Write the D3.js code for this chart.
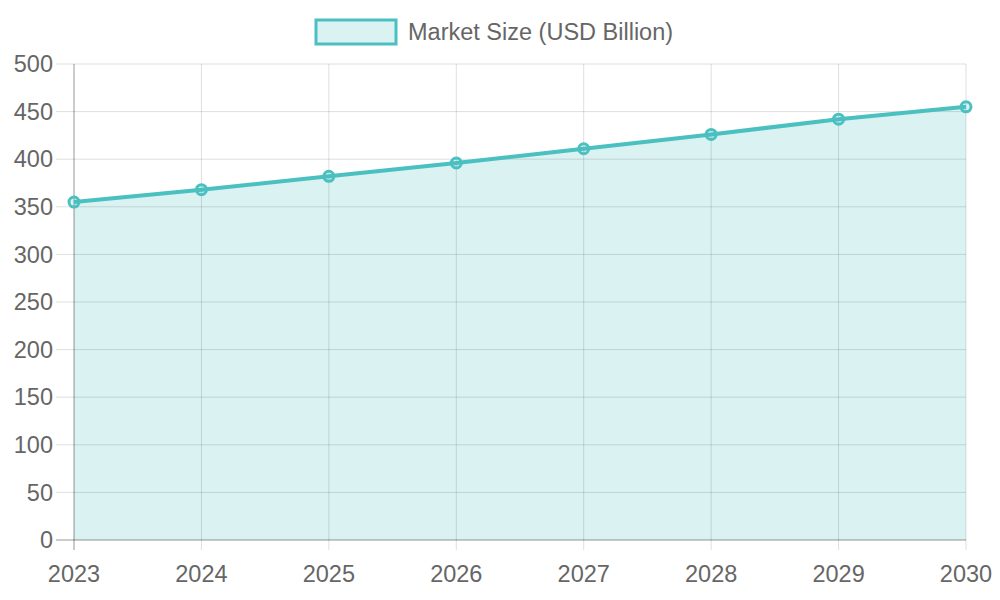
<!DOCTYPE html>
<html>
<head>
<meta charset="utf-8">
<script src="https://cdn.jsdelivr.net/npm/d3@7"></script>
<style>
  body { margin: 0; background: #fff; }
  text { font-family: "Liberation Sans", Arial, sans-serif; fill: #666; }
</style>
</head>
<body>
<svg id="chart" width="1000" height="600"></svg>
<script>
// data
var years = ["2023", "2024", "2025", "2026", "2027", "2028", "2029", "2030"];
var marketSize = [355, 368, 382, 396, 411, 426, 442, 455];
var yTicks = [0, 50, 100, 150, 200, 250, 300, 350, 400, 450, 500];
var seriesName = "Market Size (USD Billion)";

var color = "rgb(75,192,192)";
var fill = "rgba(75,192,192,0.2)";
var fontSize = "23.5px";

var margin = { top: 64, left: 74, right: 34, bottom: 60 };
var width = 1000 - margin.left - margin.right;
var height = 600 - margin.top - margin.bottom;

var svg = d3.select("#chart");
var g = svg.append("g")
  .attr("transform", "translate(" + margin.left + "," + margin.top + ")");

var x = d3.scalePoint().domain(years).range([0, width]);
var y = d3.scaleLinear().domain([0, 500]).range([height, 0]);

var pts = years.map(function(d, i) { return { yr: d, v: marketSize[i] }; });

// area first, grid on top
g.append("path").datum(pts)
  .attr("fill", fill)
  .attr("d", d3.area().x(function(d) { return x(d.yr); }).y0(height).y1(function(d) { return y(d.v); }));

g.selectAll(".hgrid").data(yTicks).enter().append("line")
  .attr("x1", -18).attr("x2", width)
  .attr("y1", function(d) { return y(d); }).attr("y2", function(d) { return y(d); })
  .attr("stroke", "rgba(0,0,0,0.13)");
g.selectAll(".vgrid").data(years).enter().append("line")
  .attr("x1", function(d) { return x(d); }).attr("x2", function(d) { return x(d); })
  .attr("y1", 0).attr("y2", height + 10)
  .attr("stroke", "rgba(0,0,0,0.13)");

// axes lines
g.append("line").attr("x1", 0).attr("x2", 0).attr("y1", 0).attr("y2", height + 10)
  .attr("stroke", "rgba(0,0,0,0.3)");
g.append("line").attr("x1", -18).attr("x2", width).attr("y1", height).attr("y2", height)
  .attr("stroke", "rgba(0,0,0,0.3)");

// tick labels
g.selectAll(".ylab").data(yTicks).enter().append("text")
  .attr("x", -21).attr("y", function(d) { return y(d); })
  .attr("dy", "0.35em").attr("text-anchor", "end")
  .style("font-size", fontSize).text(function(d) { return d; });
g.selectAll(".xlab").data(years).enter().append("text")
  .attr("x", function(d) { return x(d); }).attr("y", height + 42)
  .attr("text-anchor", "middle")
  .style("font-size", fontSize).text(function(d) { return d; });

// line + points
g.append("path").datum(pts)
  .attr("fill", "none").attr("stroke", color).attr("stroke-width", 4)
  .attr("d", d3.line().x(function(d) { return x(d.yr); }).y(function(d) { return y(d.v); }));
g.selectAll(".pt").data(pts).enter().append("circle")
  .attr("cx", function(d) { return x(d.yr); }).attr("cy", function(d) { return y(d.v); })
  .attr("r", 5).attr("fill", fill).attr("stroke", color).attr("stroke-width", 3);

// legend
svg.append("rect").attr("x", 316).attr("y", 20).attr("width", 80).attr("height", 24)
  .attr("fill", fill).attr("stroke", color).attr("stroke-width", 3);
svg.append("text").attr("x", 408).attr("y", 32).attr("dy", "0.35em")
  .style("font-size", fontSize).text(seriesName);
</script>
</body>
</html>
